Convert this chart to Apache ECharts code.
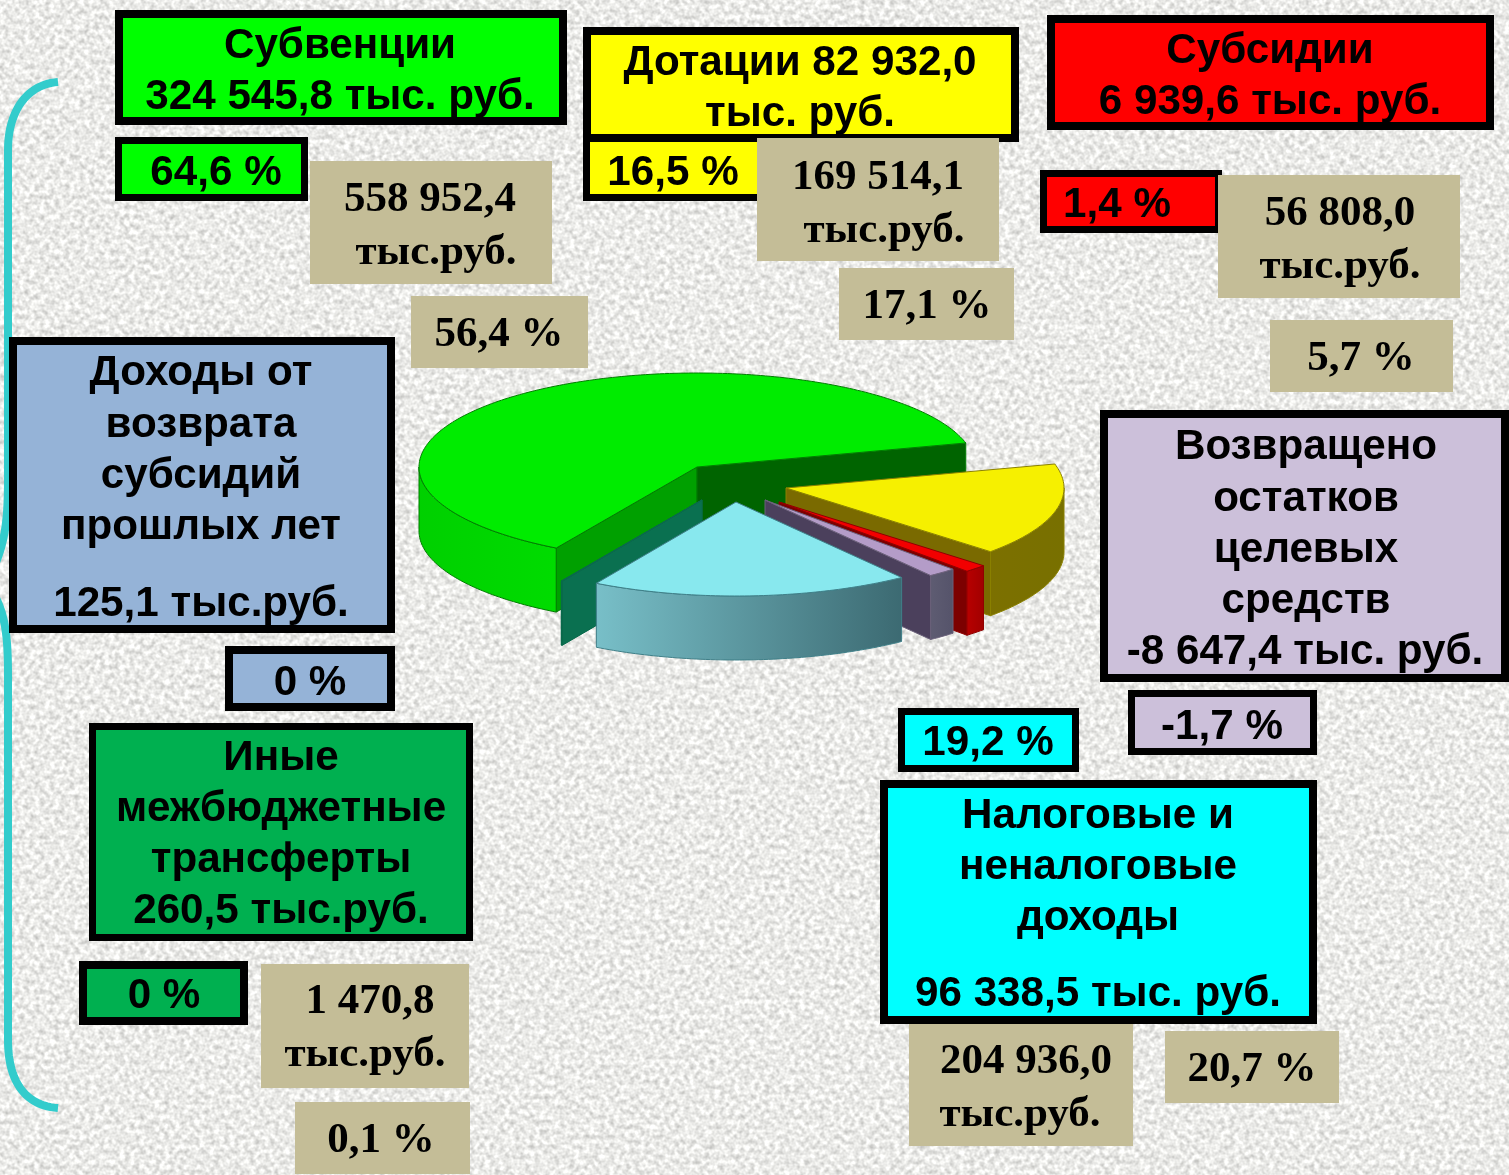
<!DOCTYPE html>
<html><head><meta charset="utf-8">
<style>
html,body{margin:0;padding:0;width:1509px;height:1175px;overflow:hidden;background:#e9e9e6}
#bg{position:absolute;left:0;top:0}
#main{position:absolute;left:0;top:0;width:1509px;height:1175px}
</style>
<script src="https://cdn.jsdelivr.net/npm/echarts@6/dist/echarts.min.js"></script>
</head><body>
<svg id="bg" width="1509" height="1175"><filter id="p" x="0" y="0" width="100%" height="100%" color-interpolation-filters="sRGB"><feTurbulence type="fractalNoise" baseFrequency="0.2" numOctaves="2" seed="7"/><feColorMatrix type="matrix" values="0.42 0 0 0 0.71  0.42 0 0 0 0.71  0.42 0 0 0 0.70  0 0 0 0 1"/></filter><rect width="1509" height="1175" filter="url(#p)"/></svg>
<div id="main"></div>
<script>
// ---- data: slices in clockwise order
const sliceNames = ['Дотации','Субсидии','Возвращено остатков','Налоговые и неналоговые доходы','Иные межбюджетные трансферты','Доходы от возврата субсидий','Субвенции'];
const sliceValues = [82932.0, 6939.6, 8647.4, 96338.5, 260.5, 125.1, 324545.8];

// ---- texts
const textSubv = ['Субвенции','324 545,8 тыс. руб.'];
const textDot = ['Дотации 82 932,0','тыс. руб.'];
const textSubs = ['Субсидии','6 939,6 тыс. руб.'];
const textVozvrat = ['Доходы от','возврата','субсидий','прошлых лет','125,1 тыс.руб.'];
const textOst = ['Возвращено','остатков','целевых','средств','-8 647,4 тыс. руб.'];
const textNal = ['Налоговые и','неналоговые','доходы','96 338,5 тыс. руб.'];
const textIny = ['Иные','межбюджетные','трансферты','260,5 тыс.руб.'];
const pctLabels = ['64,6 %','16,5 %','1,4 %','0 %','-1,7 %','19,2 %','0 %'];
const planAmounts = [['558 952,4','тыс.руб.'],['169 514,1','тыс.руб.'],['56 808,0','тыс.руб.'],['204 936,0','тыс.руб.'],['1 470,8','тыс.руб.']];
const planPct = ['56,4 %','17,1 %','5,7 %','20,7 %','0,1 %'];

// ---- pie layout & styling (indexed like sliceValues)
const RX = 278, RY = 94, DEPTH = 64, START = -14.8;
const sliceCenter = [[786,488],[779,502],[765,500],[736,502],[702,500],[702,500],[697,467]];
const sliceStyle = [
 {top:'#f6f000',side:['#7c7000','#787000'],wallEnd:'#7a6a00',stroke:'#8a8000'},
 {top:'#f20000',side:['#b80000','#a00000'],wallEnd:'#7c0000',stroke:'#900000'},
 {top:'#b49cc8',side:['#5e5c72','#55536a'],wallEnd:'#4b405c',stroke:'#6a607a'},
 {top:'#88e8ee',side:['#78bfc8','#3c6a72'],stroke:'#3f7f88'},
 {top:'#0a7050',side:['#0a7050','#0a7050'],wallStart:'#0a7050',stroke:'#0a6a4c'},
 {top:'#0a7050',side:['#0a7050','#0a7050'],wallStart:'#0a7050',stroke:'#0a6a4c'},
 {top:'#00ec00',side:['#00d000','#00dc00'],wallStart:'#00a000',wallEnd:'#006400',stroke:'#007c00'}
];
const drawOrder = [6,5,4,0,1,2,3];

const total = sliceValues.reduce((s,v)=>s+v,0);
const bounds = []; { let a = START; sliceValues.forEach(v=>{const b=a+v/total*360;bounds.push([a,b]);a=b;}); }

function pt(c,t,dy){const r=t*Math.PI/180;return [c[0]+RX*Math.cos(r),c[1]+RY*Math.sin(r)+(dy||0)];}
function arc(c,a,b,dy){const p=[];const n=Math.max(1,Math.ceil((b-a)));for(let i=0;i<=n;i++)p.push(pt(c,a+(b-a)*i/n,dy));return p;}

function renderSlice(params){
  const idx = drawOrder[params.dataIndex], c = sliceCenter[idx], st = sliceStyle[idx], a = bounds[idx][0], b = bounds[idx][1];
  const ch = [];
  const thin = {stroke:st.stroke,lineWidth:1};
  const poly = (points,fill)=>ch.push({type:'polygon',shape:{points},style:Object.assign({fill},thin)});
  const wall = (t,fill)=>{const o=pt(c,t);poly([c,o,[o[0],o[1]+DEPTH],[c[0],c[1]+DEPTH]],fill);};
  if(st.wallStart) wall(a,st.wallStart);
  if(st.wallEnd) wall(b,st.wallEnd);
  const s0=Math.max(a,0), s1=Math.min(b,180);
  if(s1>s0){
    const upper=arc(c,s0,s1,0), lower=arc(c,s0,s1,DEPTH).reverse();
    poly(upper.concat(lower), new echarts.graphic.LinearGradient(0,0,1,0,[{offset:0,color:st.side[0]},{offset:1,color:st.side[1]}]));
  }
  poly([c].concat(arc(c,a,b,0)),st.top);
  return {type:'group',children:ch};
}

// ---- annotation boxes: [x,y,w,h,fill,border,lines,cx,cys,font]
const SANS='"Liberation Sans",Arial,sans-serif', SERIF='"Liberation Serif","Times New Roman",serif';
const G='#00ff00',Y='#ffff00',R='#ff0000',B='#95b3d7',L='#ccc0da',C='#00ffff',D='#00b050',T='#c4bd97';
const boxes = [
 [115,10,452,115,G,8,textSubv,[340,340],[46,97],SANS],
 [115,137,193,64,G,7,[pctLabels[0]],[216],[173],SANS],
 [583,27,436,115,Y,8,textDot,[800,800],[63,114],SANS],
 [583,135,190,66,Y,7,[pctLabels[1]],[673],[173],SANS],
 [1047,15,447,115,R,8,textSubs,[1270,1270],[51,102],SANS],
 [1040,170,182,63,R,7,[pctLabels[2]],[1117],[205],SANS],
 [9,337,386,296,B,8,textVozvrat,[201,201,201,201,201],[373,425,476,527,604],SANS],
 [225,646,170,65,B,8,[pctLabels[3]],[310],[683],SANS],
 [1100,410,409,272,L,8,textOst,[1306,1306,1306,1306,1305],[447,499,550,601,652],SANS],
 [1128,690,189,65,L,7,[pctLabels[4]],[1222],[727],SANS],
 [898,708,181,64,C,7,[pctLabels[5]],[988],[743],SANS],
 [880,780,437,244,C,8,textNal,[1098,1098,1098,1098],[816,867,918,994],SANS],
 [89,723,384,218,D,7,textIny,[281,281,281,281],[758,809,860,911],SANS],
 [79,961,169,64,D,8,[pctLabels[6]],[164],[996],SANS],
 [310,161,242,123,T,0,planAmounts[0],[430,436],[200,253],SERIF],
 [411,296,177,72,T,0,[planPct[0]],[499],[335],SERIF],
 [757,138,242,123,T,0,planAmounts[1],[878,884],[178,231],SERIF],
 [839,268,175,72,T,0,[planPct[1]],[927],[307],SERIF],
 [1218,175,242,123,T,0,planAmounts[2],[1340,1340],[214,267],SERIF],
 [1270,320,183,72,T,0,[planPct[2]],[1361],[359],SERIF],
 [909,1024,224,122,T,0,planAmounts[3],[1026,1020],[1062,1115],SERIF],
 [1165,1031,174,72,T,0,[planPct[3]],[1252],[1070],SERIF],
 [261,964,208,124,T,0,planAmounts[4],[370,365],[1002,1055],SERIF],
 [295,1102,175,72,T,0,[planPct[4]],[381],[1141],SERIF]
];
// curly brace, sampled from bezier segments
function bez(p0,p1,p2,p3){const o=[];for(let i=0;i<=24;i++){const t=i/24,u=1-t;o.push([0,1].map(k=>u*u*u*p0[k]+3*u*u*t*p1[k]+3*u*t*t*p2[k]+t*t*t*p3[k]));}return o;}
const bracePts = [].concat(
  bez([58,82],[28,84],[8,110],[8,150]),
  bez([8,480],[8,525],[4,545],[-8,572]),
  bez([-8,590],[4,612],[8,630],[8,675]),
  bez([8,1040],[8,1085],[28,1106],[58,1108])
);
const elements = [{
  type:'polyline',
  shape:{points:bracePts},
  style:{fill:null,stroke:'#33cccc',lineWidth:8},z:5
}];
boxes.forEach(([x,y,w,h,fill,bw,lines,cxs,cys,font])=>{
  elements.push({type:'rect',shape:{x:x+bw/2,y:y+bw/2,width:w-bw,height:h-bw},style:{fill,stroke:bw?'#000':null,lineWidth:bw},z:6});
  const size = font===SERIF ? 43 : 42.2;
  lines.forEach((t,i)=>elements.push({type:'text',x:cxs[i],y:cys[i],style:{text:t,fill:'#000',font:'bold '+size+'px '+font,textAlign:'center',textVerticalAlign:'middle'},z:7}));
});

const chart = echarts.init(document.getElementById('main'),null,{renderer:'canvas'});
chart.setOption({
  backgroundColor:'transparent',
  animation:false,
  graphic:{elements},
  series:[{
    type:'custom',
    coordinateSystem:'none',
    silent:true,
    renderItem:renderSlice,
    data:drawOrder.map(i=>({name:sliceNames[i],value:[sliceValues[i]]}))
  }]
});
</script>
</body></html>
